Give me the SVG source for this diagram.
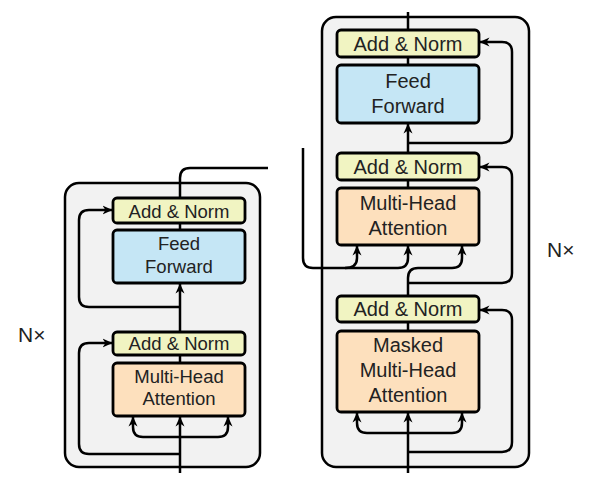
<svg xmlns="http://www.w3.org/2000/svg" width="593" height="485" viewBox="0 0 593 485">
<style>
.frame{fill:#f2f2f2;stroke:#000;stroke-width:2.5}
.an{fill:#f1f4c2;stroke:#000;stroke-width:2.8}
.ff{fill:#c5e6f5;stroke:#000;stroke-width:2.8}
.mha{fill:#fde0bd;stroke:#000;stroke-width:2.8}
.c{fill:none;stroke:#000;stroke-width:2.5}
.a{marker-end:url(#ah)}
text{font-family:"Liberation Sans",Arial,sans-serif;fill:#222;text-anchor:middle}
.s{font-size:18.5px}
.l{font-size:20px}
.n{font-size:21px;text-anchor:start}
</style>
<defs>
<marker id="ah" viewBox="0 0 10 10" refX="9.5" refY="5" markerWidth="10" markerHeight="10" markerUnits="userSpaceOnUse" orient="auto">
<path d="M0,0.5 L10,5 L0,9.5 L3,5 z" fill="#000"/>
</marker>
</defs>
<g id="encoder-frame"><rect class="frame" x="65" y="183" width="195" height="284" rx="14"/></g>
<g id="decoder-frame"><rect class="frame" x="322" y="17" width="207" height="450" rx="14"/></g>
<g id="connectors">
<path class="c a" d="M180,473 V417"/>
<path class="c a" d="M180,437 H143 Q133,437 133,427 V417"/>
<path class="c a" d="M180,437 H218 Q228,437 228,427 V417"/>
<path class="c a" d="M180,454 H89 Q79,454 79,444 V353 Q79,343 89,343 H112"/>
<path class="c" d="M180,363 V355"/>
<path class="c a" d="M180,332 V284"/>
<path class="c a" d="M180,307 H89 Q79,307 79,297 V220 Q79,210 89,210 H112"/>
<path class="c" d="M180,230 V223"/>
<path class="c" d="M180,198 V178 Q180,168 190,168 H268"/>
<path class="c a" d="M408,473 V413"/>
<path class="c a" d="M408,433 H367 Q357,433 357,423 V413"/>
<path class="c a" d="M408,433 H452 Q462,433 462,423 V413"/>
<path class="c a" d="M408,452 H502 Q512,452 512,442 V320 Q512,310 502,310 H480"/>
<path class="c" d="M408,331 V322"/>
<path class="c a" d="M408,296 V278 Q408,268 418,268 H452 Q462,268 462,258 V246"/>
<path class="c a" d="M408,283 H502 Q512,283 512,273 V177 Q512,167 502,167 H480"/>
<path class="c a" d="M303,148 V258 Q303,268 313,268 H398 Q408,268 408,258 V246"/>
<path class="c a" d="M345,268 Q357,268 357,258 V246"/>
<path class="c" d="M408,188 V180"/>
<path class="c a" d="M408,153 V124"/>
<path class="c a" d="M408,143 H502 Q512,143 512,133 V52 Q512,42 502,42 H480"/>
<path class="c" d="M408,65 V58"/>
<path class="c" d="M408,30 V12"/>
</g>
<g id="enc-addnorm2"><rect class="an" x="113" y="198" width="132" height="25" rx="4"/><text class="s" x="179" y="218">Add &amp; Norm</text></g>
<g id="enc-ff"><rect class="ff" x="113" y="230" width="132" height="53" rx="4"/><text class="s" x="179" y="250">Feed</text><text class="s" x="179" y="273">Forward</text></g>
<g id="enc-addnorm1"><rect class="an" x="113" y="332" width="132" height="23" rx="4"/><text class="s" x="179" y="350">Add &amp; Norm</text></g>
<g id="enc-mha"><rect class="mha" x="113" y="363" width="132" height="53" rx="4"/><text class="s" x="179" y="383">Multi-Head</text><text class="s" x="179" y="405">Attention</text></g>
<g id="dec-addnorm3"><rect class="an" x="337" y="30" width="142" height="27" rx="4"/><text class="l" x="408" y="51">Add &amp; Norm</text></g>
<g id="dec-ff"><rect class="ff" x="337" y="65" width="142" height="58" rx="4"/><text class="l" x="408" y="88">Feed</text><text class="l" x="408" y="113">Forward</text></g>
<g id="dec-addnorm2"><rect class="an" x="337" y="153" width="142" height="27" rx="4"/><text class="l" x="408" y="174">Add &amp; Norm</text></g>
<g id="dec-mha"><rect class="mha" x="337" y="188" width="142" height="57" rx="4"/><text class="l" x="408" y="210">Multi-Head</text><text class="l" x="408" y="235">Attention</text></g>
<g id="dec-addnorm1"><rect class="an" x="337" y="296" width="142" height="26" rx="4"/><text class="l" x="408" y="316">Add &amp; Norm</text></g>
<g id="dec-masked"><rect class="mha" x="337" y="331" width="142" height="81" rx="4"/><text class="l" x="408" y="352">Masked</text><text class="l" x="408" y="377">Multi-Head</text><text class="l" x="408" y="402">Attention</text></g>
<g id="enc-nx"><text class="n" x="18" y="342">N×</text></g>
<g id="dec-nx"><text class="n" x="547" y="257">N×</text></g>
</svg>
